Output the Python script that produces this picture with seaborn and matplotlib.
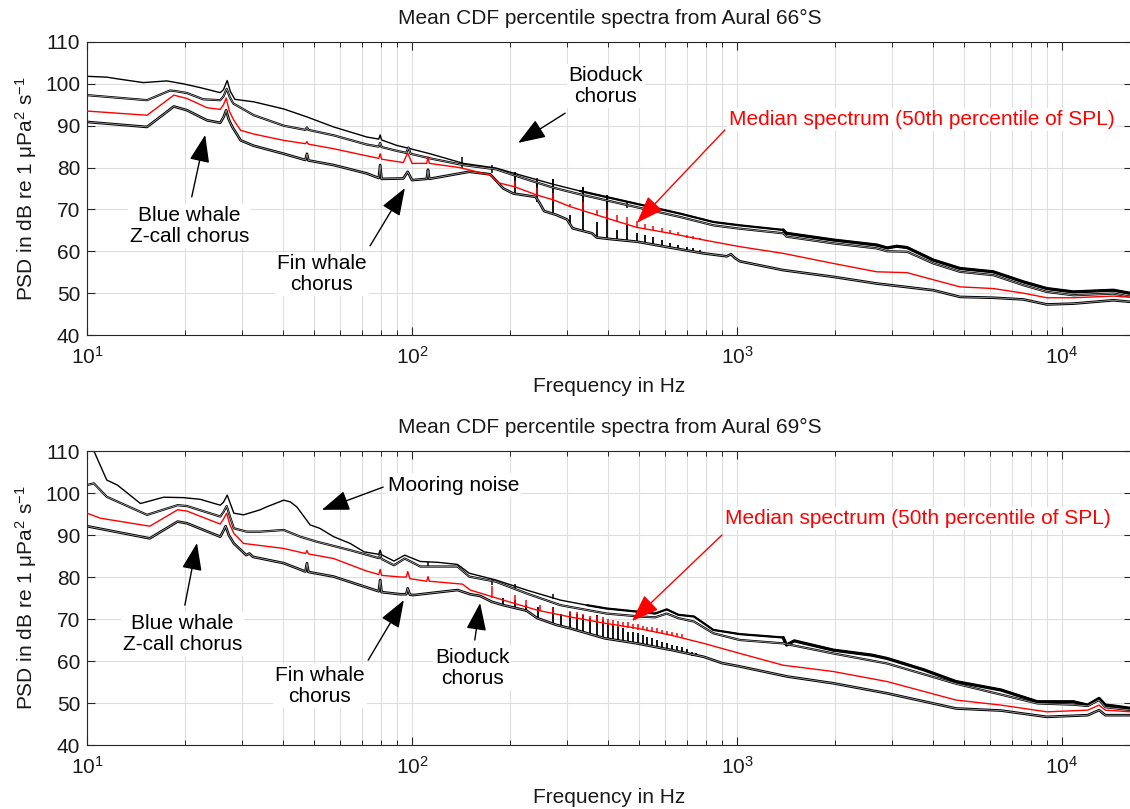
import numpy as np
import matplotlib
matplotlib.use("Agg")
import matplotlib.pyplot as plt
from matplotlib.ticker import LogLocator, LogFormatterSciNotation, NullFormatter
import seaborn as sns

# ------------------------------------------------------------------
# Data: (frequency in Hz, PSD in dB)
# ------------------------------------------------------------------
# ---- Aural 66°S ----
A66_P99 = [(10, 101.8), (11.5, 101.6), (12.4, 101.2), (14.9, 100.3), (17.6, 100.7), (19.8, 100.0),
           (22.3, 99.1), (24.5, 98.3), (25.7, 97.9), (26.3, 98.6), (27.0, 100.8), (27.6, 98.2),
           (28.5, 96.3), (32.6, 95.7), (40.3, 94.0), (47.5, 92.1), (57.4, 89.7), (72.6, 87.3),
           (79.0, 86.8), (79.8, 87.8), (80.6, 86.6), (89.7, 85.3), (100, 84.4), (113.6, 83.3),
           (143.9, 81.0), (181, 79.9), (225, 77.8), (272, 76.0), (329, 74.4), (416, 72.6),
           (527, 70.8), (668, 69.0), (846, 67.0), (1021, 66.2), (1387, 65.1), (1420, 64.3),
           (1977, 62.7), (2690, 61.5), (2900, 60.8), (3100, 61.2), (3334, 60.9), (4018, 57.9),
           (4855, 55.9), (6147, 55.1), (7604, 52.7), (8978, 51.1), (10840, 50.3), (14390, 50.7),
           (16384, 49.9)]
A66_P95 = [(10, 97.3), (15.3, 96.1), (18.0, 98.4), (18.6, 98.3), (20.3, 97.8), (22.8, 96.3),
           (25.7, 96.1), (26.3, 97.0), (26.9, 98.8), (27.5, 96.8), (28.2, 95.3), (32.6, 92.5),
           (40.3, 90.0), (47.0, 89.0), (47.5, 89.6), (48.0, 89.0), (57.4, 87.7), (72.6, 85.5),
           (79.0, 85.0), (79.8, 85.9), (80.6, 84.9), (89.7, 84.0), (96, 83.5), (97.5, 84.8),
           (99, 83.3), (113.6, 82.2), (143.9, 80.6), (181, 79.6), (225, 77.2), (272, 75.2),
           (329, 73.6), (416, 71.8), (527, 70.0), (668, 68.2), (846, 66.2), (1021, 65.4),
           (1387, 64.3), (1420, 63.5), (1977, 61.9), (2690, 60.7), (2900, 60.0), (3334, 59.9),
           (4018, 57.1), (4855, 55.1), (6147, 54.3), (7604, 51.9), (8978, 50.3), (10840, 49.5),
           (14390, 49.9), (16384, 49.1)]
A66_P50 = [(10, 93.5), (15.3, 92.5), (18.5, 97.3), (20.3, 96.5), (23.4, 94.3), (25.7, 93.9),
           (26.3, 95.0), (26.8, 96.6), (27.4, 93.5), (28.3, 91.3), (29.7, 88.9), (32.6, 88.0),
           (40.3, 86.5), (47.0, 85.7), (47.5, 86.2), (48.0, 85.6), (57.4, 84.5), (72.6, 82.8),
           (79.0, 82.2), (79.8, 83.3), (80.6, 82.0), (94, 81.2), (97, 83.5), (100, 81.0),
           (111, 81.0), (112, 82.6), (113, 81.0), (140, 80.0), (174, 78.2), (186, 76.3),
           (207, 75.4), (243, 73.4), (272, 72.3), (306, 70.7), (336, 69.7), (398, 67.9),
           (492, 65.7), (622, 64.3), (790, 62.7), (1021, 61.1), (1387, 59.5), (1977, 57.1),
           (2690, 55.1), (3334, 54.9), (4018, 53.2), (4855, 51.5), (6147, 51.1), (7604, 50.0),
           (8978, 48.9), (10840, 48.9), (14390, 49.3), (16384, 49.0)]
A66_P05 = [(10, 90.9), (15.3, 89.7), (18.5, 94.6), (20.3, 93.7), (23.4, 91.3), (25.7, 90.7),
           (26.3, 92.0), (26.8, 93.7), (27.3, 91.5), (28.0, 89.7), (29.7, 86.5), (32.6, 85.2),
           (40.3, 83.3), (47.0, 81.8), (47.5, 83.3), (48.0, 81.7), (57.4, 80.6), (72.6, 78.6),
           (79.0, 77.5), (79.8, 80.6), (80.6, 77.3), (94, 77.4), (97, 79.0), (100, 77.0),
           (111, 77.3), (112, 79.5), (113, 77.3), (150, 79.0), (174, 78.4), (191, 75.0),
           (205, 73.8), (240, 73.0), (247, 71.5), (255, 69.6), (278, 68.7), (300, 67.6),
           (312, 65.5), (358, 64.3), (370, 63.3), (410, 62.9), (492, 62.3), (622, 60.9),
           (790, 59.5), (930, 58.8), (958, 59.3), (985, 58.4), (1021, 57.6), (1387, 55.5),
           (1977, 53.9), (2690, 52.3), (4018, 50.7), (4855, 49.1), (6147, 48.9), (7604, 48.5),
           (8978, 47.3), (10840, 47.5), (14390, 48.3), (16384, 47.9)]
# tonal comb (frequency, base dB, peak dB)
A66_LOW_SPIKES = [(207, 73.6, 79.0), (243, 71.8, 76.6), (272, 68.7, 77.2), (306, 66.3, 68.7),
                  (336, 64.8, 75.4), (371, 63.2, 67.1), (398, 62.9, 73.4), (427, 62.7, 65.1),
                  (459, 62.5, 66.3), (492, 62.2, 64.3), (521, 61.9, 63.9), (551, 61.6, 63.5),
                  (588, 61.3, 62.7), (622, 60.9, 61.9), (658, 60.5, 61.5), (701, 60.1, 61.1),
                  (733, 59.8, 60.7), (770, 59.5, 60.3)]
A66_RED_SPIKES = [(207, 75.2, 76.8), (243, 73.2, 75.2), (272, 72.1, 73.9), (306, 70.5, 71.4),
                  (336, 69.5, 71.8), (371, 68.6, 69.9), (398, 67.8, 69.9), (427, 67.1, 68.7),
                  (459, 66.4, 68.3), (492, 65.6, 67.2), (521, 65.3, 66.6), (551, 65.0, 66.1),
                  (588, 64.7, 65.6), (622, 64.3, 65.2), (658, 63.8, 64.6), (701, 63.2, 64.0),
                  (733, 62.9, 63.6), (770, 62.6, 63.2)]
A66_HIGH_SPIKES = [(143, 80.0, 82.6), (176, 78.6, 80.6), (207, 77.0, 79.0), (243, 75.6, 77.6),
                   (272, 74.6, 77.2), (336, 72.8, 75.4), (398, 71.6, 73.4), (459, 70.4, 71.8)]

# ---- Aural 69°S ----
A69_P99 = [(10, 112.0), (10.5, 110.0), (11.5, 103.1), (12.4, 101.9), (14.6, 97.5), (17.2, 99.0),
           (19.8, 98.9), (22.3, 98.5), (25.7, 97.1), (26.3, 97.8), (27.0, 99.5), (27.6, 97.5),
           (28.3, 95.2), (30.3, 94.8), (34.1, 96.0), (35.7, 96.7), (40.3, 98.3), (42.2, 97.9),
           (44.2, 96.7), (48.6, 92.4), (52, 91.6), (57.4, 89.6), (64.5, 88.0), (71.2, 86.0),
           (79.0, 85.4), (79.8, 86.4), (80.6, 85.3), (88, 83.8), (95, 85.2), (106, 83.7),
           (120, 83.5), (138, 83.0), (150, 80.9), (181, 79.3), (225, 76.9), (286, 74.5),
           (345, 73.3), (397, 72.5), (502, 71.7), (560, 71.3), (608, 72.3), (660, 71.0),
           (737, 70.6), (846, 67.4), (1021, 66.4), (1387, 65.6), (1420, 63.8), (1500, 64.8),
           (1977, 62.6), (2600, 61.4), (2900, 60.6), (3760, 57.9), (4720, 55.1), (6490, 53.1),
           (8400, 50.3), (10840, 50.3), (12000, 49.5), (13000, 51.1), (13600, 49.5),
           (14390, 49.3), (16384, 48.7)]
A69_P95 = [(10, 101.9), (10.5, 102.3), (11.5, 99.1), (15.3, 94.8), (19.0, 97.1), (20.3, 96.9),
           (25.7, 94.4), (26.3, 95.5), (26.9, 96.9), (27.5, 94.5), (28.3, 91.6), (31, 90.8),
           (34.1, 90.8), (40.3, 91.2), (45.3, 89.6), (51, 88.4), (64.5, 86.4), (79.0, 84.5),
           (79.8, 85.3), (80.6, 84.3), (88, 82.8), (95, 84.4), (106, 82.5), (120, 82.5),
           (138, 82.5), (150, 80.1), (181, 78.9), (225, 76.1), (286, 73.3), (397, 71.3),
           (502, 70.6), (560, 70.4), (608, 71.3), (660, 70.2), (737, 69.4), (846, 66.6),
           (1021, 65.0), (1387, 64.2), (1977, 61.8), (2900, 59.4), (4720, 54.6), (8400, 49.9),
           (10840, 49.6), (12000, 49.3), (13000, 50.7), (13600, 49.0), (16384, 48.3)]
A69_P50 = [(10, 95.2), (11, 94.0), (15.6, 92.1), (19.0, 96.0), (20.3, 95.7), (25.7, 92.6),
           (26.3, 93.8), (26.9, 95.2), (27.5, 92.5), (28.3, 90.4), (30.3, 88.0), (40.3, 86.8),
           (47.0, 85.6), (47.5, 86.3), (48.0, 85.5), (57.4, 84.4), (72, 81.5), (79.0, 80.6),
           (79.8, 81.8), (80.6, 80.4), (92, 80.0), (96, 80.0), (97, 81.3), (98.5, 79.6),
           (111, 79.0), (112, 80.1), (113, 79.0), (143, 78.3), (151, 76.9), (191, 74.5),
           (243, 72.1), (306, 70.5), (392, 69.0), (492, 67.8), (622, 66.2), (790, 64.2),
           (1021, 61.8), (1387, 59.0), (1977, 57.5), (2900, 55.1), (4720, 50.7), (6490, 49.5),
           (8978, 47.9), (12000, 48.3), (13000, 49.5), (13600, 48.3), (16384, 47.9)]
A69_P05 = [(10, 92.1), (15.6, 89.2), (19.0, 93.2), (20.3, 92.8), (25.7, 89.6), (26.2, 90.8),
           (26.7, 92.1), (27.3, 90.0), (28.3, 88.0), (30.9, 85.2), (31.6, 85.6), (32.4, 84.8),
           (40.3, 83.3), (47.0, 81.3), (47.5, 83.3), (48.0, 81.2), (57.4, 80.1), (79.0, 76.6),
           (79.8, 79.3), (80.6, 76.4), (92, 75.9), (96, 75.9), (97, 77.3), (98.5, 75.8),
           (101, 75.7), (138, 76.9), (151, 75.9), (162, 75.5), (176, 74.1), (191, 73.3),
           (225, 72.0), (243, 70.2), (278, 68.6), (306, 67.8), (392, 65.4), (492, 64.2),
           (630, 62.6), (790, 61.0), (900, 59.5), (1021, 58.7), (1429, 56.3), (1977, 54.7),
           (2900, 52.3), (4720, 48.7), (6490, 48.2), (8978, 46.7), (12000, 47.1), (13000, 48.3),
           (13600, 47.1), (16384, 47.1)]
A69_LOW_SPIKES = [(191, 73.0, 74.9), (207, 72.4, 74.5), (225, 71.6, 73.3), (245, 70.0, 72.9),
                  (272, 68.7, 72.9), (288, 68.2, 71.3), (306, 67.6, 71.7), (322, 67.1, 71.3),
                  (336, 66.7, 71.0), (353, 66.3, 70.2), (370, 65.9, 71.0), (388, 65.4, 69.8),
                  (402, 65.2, 69.0), (416, 65.0, 68.6), (431, 64.8, 68.2), (446, 64.6, 67.8),
                  (462, 64.4, 67.0), (478, 64.2, 67.0), (495, 64.0, 66.6), (512, 63.8, 66.2),
                  (530, 63.6, 65.8), (549, 63.4, 65.4), (568, 63.1, 65.0), (588, 62.9, 64.6),
                  (609, 62.7, 64.2), (630, 62.4, 63.8), (652, 62.2, 63.6), (675, 61.9, 63.3),
                  (700, 61.6, 62.8), (725, 61.3, 62.2), (750, 61.1, 61.8)]
A69_RED_SPIKES = [(176, 75.0, 77.8), (207, 73.6, 75.7), (225, 72.8, 74.5), (247, 71.8, 73.3),
                  (272, 71.2, 72.9), (306, 70.3, 71.8), (322, 70.0, 71.7), (336, 69.7, 71.3),
                  (353, 69.4, 70.8), (370, 69.1, 70.6), (388, 68.8, 70.4), (402, 68.6, 70.1),
                  (416, 68.4, 69.8), (431, 68.2, 69.6), (446, 68.0, 69.4), (462, 67.9, 69.2),
                  (478, 67.7, 68.9), (495, 67.5, 68.7), (512, 67.3, 68.4), (530, 67.1, 68.2),
                  (549, 66.9, 68.0), (568, 66.7, 67.8), (588, 66.5, 67.5), (609, 66.2, 67.2),
                  (630, 66.0, 67.0), (652, 65.7, 66.7), (675, 65.4, 66.5)]
A69_HIGH_SPIKES = [(112, 82.5, 83.6), (176, 78.2, 79.6), (207, 77.0, 78.4), (272, 74.8, 76.0)]

TITLES = ["Mean CDF percentile spectra from Aural 66°S",
          "Mean CDF percentile spectra from Aural 69°S"]
XLABEL = "Frequency in Hz"
YLABEL = "PSD in dB re 1 μPa$^{2}$ s$^{-1}$"
MEDIAN_TEXT = "Median spectrum (50th percentile of SPL)"

# annotations: (text, text position (Hz, dB), arrow tail, arrow tip, colour, ha)
ANNOT_66 = [("Bioduck\nchorus", (395, 99.5), (296, 93.0), (212, 85.9), "black", "center"),
            (MEDIAN_TEXT, (945, 91.4), (918, 89.0), (492, 66.8), "red", "left"),
            ("Blue whale\nZ-call chorus", (20.7, 66.0), (21.0, 73.0), (23.1, 87.8), "black", "center"),
            ("Fin whale\nchorus", (52.8, 54.6), (74.3, 61.3), (95.1, 75.1), "black", "center")]
ANNOT_69 = [("Mooring noise", (84.3, 101.9), (81.5, 101.4), (52.8, 96.0), "black", "left"),
            (MEDIAN_TEXT, (920, 94.0), (899, 90.0), (475, 69.5), "red", "left"),
            ("Blue whale\nZ-call chorus", (19.7, 66.4), (20.0, 73.3), (21.8, 88.1), "black", "center"),
            ("Fin whale\nchorus", (52.1, 54.0), (73.3, 60.2), (94.4, 74.5), "black", "center"),
            ("Bioduck\nchorus", (153, 58.3), (156, 65.0), (162, 73.8), "black", "center")]

# ------------------------------------------------------------------
sns.set_theme(style="ticks")
plt.rcParams["font.family"] = ["Liberation Sans", "DejaVu Sans"]
plt.rcParams["mathtext.fontset"] = "custom"
plt.rcParams["mathtext.rm"] = "Liberation Sans"
plt.rcParams["mathtext.it"] = "Liberation Sans:italic"
plt.rcParams["mathtext.bf"] = "Liberation Sans:bold"

TXT = "#1a1a1a"
GRID = "#dedede"
FS = 15

fig = plt.figure(figsize=(11.30, 8.09), dpi=100)
ax1 = fig.add_axes([0.077, 0.5859, 0.9245, 0.3622])
ax2 = fig.add_axes([0.077, 0.0791, 0.9245, 0.3634])


def split(pairs, fmin=0):
    f = [p[0] for p in pairs if p[0] >= fmin]
    v = [p[1] for p in pairs if p[0] >= fmin]
    return f, v


def line(ax, pairs, color, lw, z, double=False, fmin=0):
    f, v = split(pairs, fmin)
    sns.lineplot(x=f, y=v, ax=ax, color=color, lw=lw, estimator=None, sort=False,
                 zorder=z, legend=False)
    if double:
        sns.lineplot(x=f, y=v, ax=ax, color="#b4b4b4", lw=0.5, estimator=None, sort=False,
                     zorder=z + 0.1, legend=False)


def spikes(ax, trip, color, z, lw=1.1):
    if not trip:
        return
    f = [t[0] for t in trip]
    lo = [t[1] for t in trip]
    hi = [t[2] for t in trip]
    ax.vlines(f, lo, hi, colors=color, lw=lw, zorder=z)


def panel(ax, p99, p95, p50, p05, low_sp, red_sp, high_sp, annots, title):
    ax.set_xscale("log")
    line(ax, p05, "black", 1.9, 2.0, double=True)
    spikes(ax, low_sp, "black", 2.05, lw=1.3)
    line(ax, p95, "black", 1.6, 2.2, double=True)
    line(ax, p99, "black", 1.0, 2.3)
    line(ax, p99, "black", 1.6, 2.3, fmin=300)
    line(ax, p99, "black", 2.3, 2.3, fmin=1100)
    spikes(ax, high_sp, "black", 2.25)
    line(ax, p50, "red", 1.0, 2.6)
    spikes(ax, red_sp, "red", 2.65)

    ax.set_xlim(10, 16384)
    ax.set_ylim(40, 110)
    ax.set_yticks(np.arange(40, 111, 10))
    ax.xaxis.set_major_locator(LogLocator(base=10, numticks=12))
    ax.xaxis.set_minor_locator(LogLocator(base=10, subs=np.arange(2, 10), numticks=12))
    ax.xaxis.set_major_formatter(LogFormatterSciNotation(base=10))
    ax.xaxis.set_minor_formatter(NullFormatter())
    ax.grid(True, which="major", axis="both", color=GRID, lw=0.8, zorder=0)
    ax.grid(True, which="minor", axis="x", color=GRID, lw=0.8, zorder=0)
    ax.set_axisbelow(True)
    ax.tick_params(which="both", direction="in", top=True, right=True, colors="#262626",
                   labelcolor=TXT, labelsize=15)
    ax.tick_params(which="major", length=6, width=0.8)
    ax.tick_params(which="minor", length=3.5, width=0.7)
    ax.tick_params(axis="y", pad=5)
    ax.tick_params(axis="x", pad=8)
    for s in ax.spines.values():
        s.set_color("#262626")
        s.set_linewidth(0.8)

    ax.set_title(title, fontsize=FS, color=TXT, pad=13)
    ax.set_xlabel(XLABEL, fontsize=FS, color=TXT)
    ax.set_ylabel(YLABEL, fontsize=FS, color=TXT)
    ax.yaxis.set_label_coords(-0.046, 0.5)
    ax.xaxis.set_label_coords(0.5, -0.145)

    for text, pos, tail, tip, col, ha in annots:
        ax.annotate("", xy=tip, xytext=tail,
                    arrowprops=dict(arrowstyle="-|>,head_length=0.9,head_width=0.33",
                                    color=col, lw=1.0, mutation_scale=19,
                                    shrinkA=0, shrinkB=0), zorder=5)
        ax.text(pos[0], pos[1], text, color=col, fontsize=FS, ha=ha, va="center",
                multialignment="center", linespacing=1.12, zorder=4,
                bbox=dict(facecolor="white", edgecolor="none", pad=1.5))


panel(ax1, A66_P99, A66_P95, A66_P50, A66_P05, A66_LOW_SPIKES, A66_RED_SPIKES,
      A66_HIGH_SPIKES, ANNOT_66, TITLES[0])
panel(ax2, A69_P99, A69_P95, A69_P50, A69_P05, A69_LOW_SPIKES, A69_RED_SPIKES,
      A69_HIGH_SPIKES, ANNOT_69, TITLES[1])

fig.savefig("out.png", dpi=100)
